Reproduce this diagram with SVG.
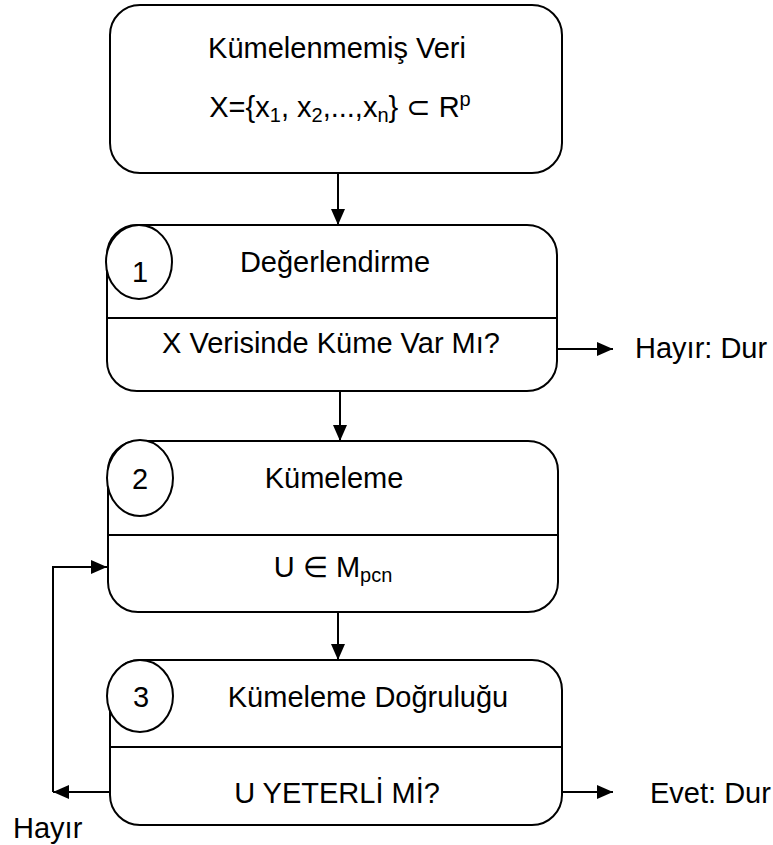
<svg xmlns="http://www.w3.org/2000/svg" width="773" height="845" viewBox="0 0 773 845">
<style>
.box{fill:#fff;stroke:#000;stroke-width:2}
.div{stroke:#000;stroke-width:2}
.num{fill:#fff;stroke:#000;stroke-width:2}
text{font-family:"Liberation Sans",Arial,"DejaVu Sans",sans-serif;font-size:29px;fill:#000}
.c{text-anchor:middle}
.con{fill:none;stroke:#000;stroke-width:2}
</style>
<defs>
<marker id="ah" viewBox="0 0 16 14" refX="16" refY="7" markerWidth="16" markerHeight="14" markerUnits="userSpaceOnUse" orient="auto">
<path d="M0,0 L16,7 L0,14 z" fill="#000"/>
</marker>
</defs>
<rect width="773" height="845" fill="#fff"/>
<g id="n0">
<rect class="box" x="110" y="5" width="452" height="168" rx="30" ry="30"/>
<text class="c" x="337" y="58">Kümelenmemiş Veri</text>
<text class="c" x="340" y="117">X={x<tspan font-size="20" dy="5">1</tspan><tspan dy="-5">, x</tspan><tspan font-size="20" dy="5">2</tspan><tspan dy="-5">,...,x</tspan><tspan font-size="20" dy="5">n</tspan><tspan dy="-5">} ⊂ R</tspan><tspan font-size="20" dy="-11">p</tspan></text>
</g>
<g id="n1">
<rect class="box" x="107" y="225" width="450" height="166" rx="30" ry="30"/>
<line class="div" x1="107" y1="318" x2="557" y2="318"/>
<ellipse class="num" cx="139" cy="262" rx="33" ry="37"/>
<text class="c" x="140" y="282" font-size="31">1</text>
<text class="c" x="335" y="272">Değerlendirme</text>
<text class="c" x="331" y="353">X Verisinde Küme Var Mı?</text>
</g>
<g id="n2">
<rect class="box" x="108" y="441" width="450" height="171" rx="30" ry="30"/>
<line class="div" x1="108" y1="535" x2="558" y2="535"/>
<ellipse class="num" cx="140" cy="478" rx="33" ry="38"/>
<text class="c" x="140" y="489" font-size="31">2</text>
<text class="c" x="334" y="488">Kümeleme</text>
<text class="c" x="333" y="577">U ∈ M<tspan font-size="20" dy="5">pcn</tspan></text>
</g>
<g id="n3">
<rect class="box" x="110" y="660" width="452" height="165" rx="30" ry="30"/>
<line class="div" x1="110" y1="747" x2="562" y2="747"/>
<ellipse class="num" cx="140" cy="696" rx="33" ry="36"/>
<text class="c" x="141" y="707" font-size="31">3</text>
<text class="c" x="368" y="707">Kümeleme Doğruluğu</text>
<text class="c" x="337" y="803">U YETERLİ Mİ?</text>
</g>
<g id="connectors">
<line class="con" x1="338" y1="173" x2="338" y2="225" marker-end="url(#ah)"/>
<line class="con" x1="340" y1="391" x2="340" y2="441" marker-end="url(#ah)"/>
<line class="con" x1="338" y1="612" x2="338" y2="660" marker-end="url(#ah)"/>
<line class="con" x1="557" y1="349" x2="613" y2="349" marker-end="url(#ah)"/>
<line class="con" x1="562" y1="792" x2="613" y2="792" marker-end="url(#ah)"/>
<line class="con" x1="110" y1="792" x2="53" y2="792" marker-end="url(#ah)"/>
<polyline class="con" points="53,792 53,567 107,567" marker-end="url(#ah)"/>
</g>
<g id="labels">
<text x="635" y="358">Hayır: Dur</text>
<text x="650" y="803">Evet: Dur</text>
<text x="13" y="838">Hayır</text>
</g>
</svg>
